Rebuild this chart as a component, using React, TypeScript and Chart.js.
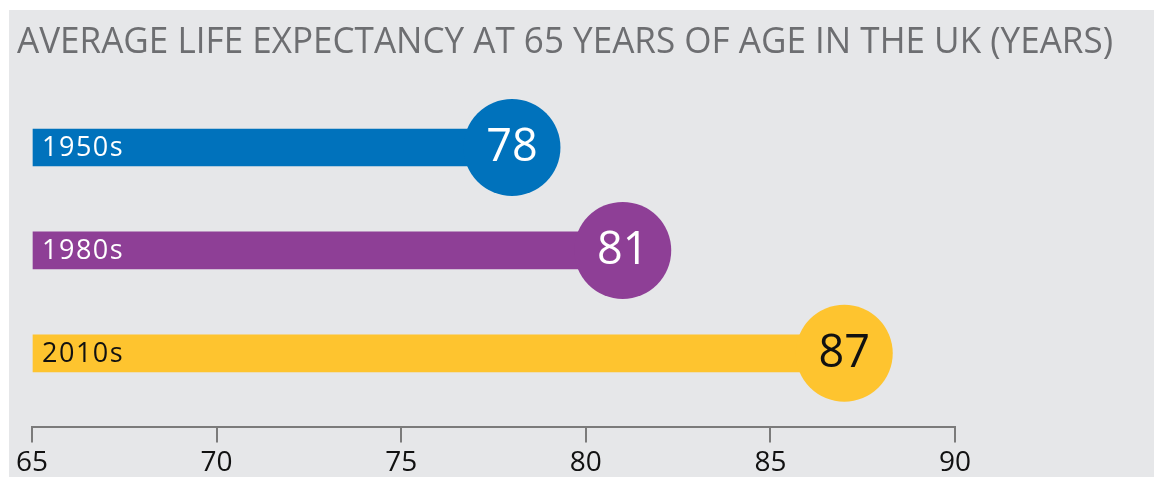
import React, { useEffect, useRef } from "react";
import { Chart, registerables } from "chart.js";

Chart.register(...registerables);

const TITLE = "AVERAGE LIFE EXPECTANCY AT 65 YEARS OF AGE IN THE UK (YEARS)";
const categories = ["1950s", "1980s", "2010s"];
const values = [78, 81, 87];
const colors = ["#0072bc", "#8e3f96", "#fec42f"];
const textColors = ["#ffffff", "#ffffff", "#111111"];
const axisMin = 65;
const axisMax = 90;
const axisStep = 5;

const FONT = "'Open Sans', 'Noto Sans', sans-serif";

const decorPlugin = {
  id: "decor",
  beforeDraw(chart: any) {
    const { ctx } = chart;
    ctx.save();
    ctx.fillStyle = "#e6e7e9";
    ctx.fillRect(9, 10, 1145, 467);
    ctx.font = `36px ${FONT}`;
    ctx.fillStyle = "#6d6e71";
    ctx.textBaseline = "alphabetic";
    const w = ctx.measureText(TITLE).width;
    const target = 1096;
    ctx.translate(17, 53);
    ctx.scale(target / w, 1);
    ctx.fillText(TITLE, 0, 0);
    ctx.restore();
  },
  afterDatasetsDraw(chart: any) {
    const { ctx, chartArea } = chart;
    const bars = chart.getDatasetMeta(0).data;
    const dots = chart.getDatasetMeta(1).data;
    ctx.save();
    ctx.textBaseline = "middle";
    bars.forEach((bar: any, i: number) => {
      ctx.font = `500 27px ${FONT}`;
      (ctx as any).letterSpacing = "1.5px";
      ctx.textAlign = "left";
      ctx.fillStyle = textColors[i];
      ctx.fillText(categories[i], chartArea.left + 10, bar.y + 1);
    });
    (ctx as any).letterSpacing = "0px";
    dots.forEach((pt: any, i: number) => {
      ctx.font = `45px ${FONT}`;
      ctx.textAlign = "center";
      ctx.fillStyle = textColors[i];
      ctx.fillText(String(values[i]), pt.x, pt.y + 1);
    });
    ctx.restore();
  },
};

export default function App() {
  const ref = useRef<HTMLCanvasElement | null>(null);
  useEffect(() => {
    if (!ref.current) return;
    const chart = new Chart(ref.current, {
      type: "bar",
      data: {
        datasets: [
          {
            type: "bar",
            data: values.map((v, i) => ({ x: v, y: i })),
            base: axisMin,
            backgroundColor: colors,
            borderWidth: 0,
            barThickness: 37,
            order: 1,
          } as any,
          {
            type: "line",
            indexAxis: "y",
            data: values.map((v, i) => ({ x: v, y: i })),
            showLine: false,
            pointRadius: 48.5,
            pointHoverRadius: 48.5,
            pointBorderWidth: 0,
            pointBackgroundColor: colors,
            clip: false,
            order: 0,
          } as any,
        ],
      },
      options: {
        indexAxis: "y",
        animation: false,
        responsive: true,
        maintainAspectRatio: false,
        events: [],
        layout: { autoPadding: false, padding: { left: 32, right: 200, top: 96, bottom: -6 } },
        plugins: { legend: { display: false }, tooltip: { enabled: false }, title: { display: false } },
        scales: {
          x: {
            type: "linear",
            min: axisMin,
            max: axisMax,
            offset: false,
            ticks: {
              stepSize: axisStep,
              color: "#111111",
              font: { family: FONT, size: 28 },
              padding: 4,
            },
            grid: {
              display: true,
              drawOnChartArea: false,
              drawTicks: true,
              tickLength: 15,
              color: "#7b7b7b",
              lineWidth: 2,
              offset: false,
            },
            border: { display: true, color: "#7b7b7b", width: 2 },
          },
          y: {
            type: "linear",
            reverse: true,
            min: -0.5,
            max: 2.72,
            offset: false,
            grid: { offset: false },
            display: false,
          },
        },
      },
      plugins: [decorPlugin],
    } as any);
    return () => chart.destroy();
  }, []);
  return (
    <div style={{ position: "absolute", left: 0, top: 0, width: 1155, height: 478 }}>
      <canvas ref={ref} />
    </div>
  );
}
